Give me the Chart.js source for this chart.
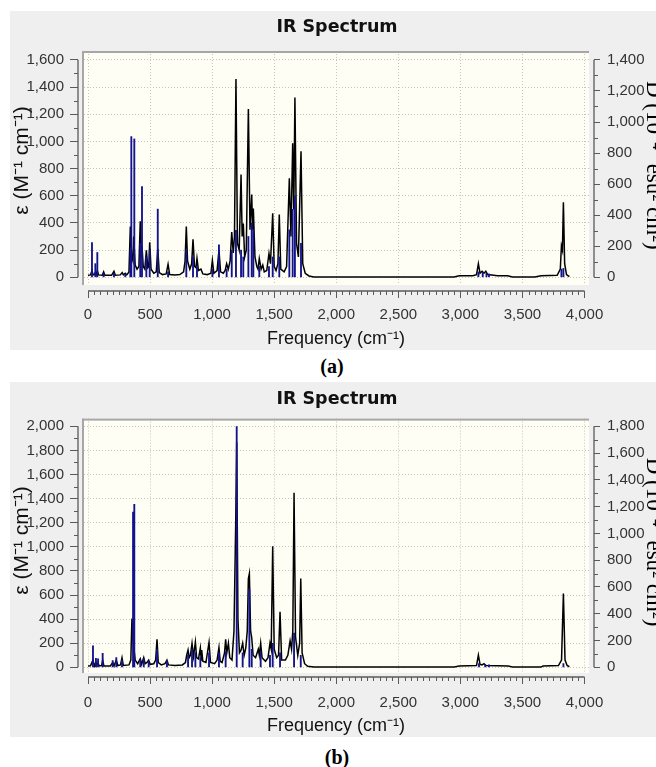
<!DOCTYPE html>
<html><head><meta charset="utf-8">
<script src="https://cdn.jsdelivr.net/npm/chart.js@4.4.1/dist/chart.umd.min.js"></script>
<style>
html,body{margin:0;padding:0;background:#fff;width:656px;height:767px;overflow:hidden;position:relative}
canvas{position:absolute;left:10px;background:#efefef}
#ca{top:11px}
#cb{top:382px}
.cap{position:absolute;font-family:'Liberation Serif','Times New Roman',serif;font-weight:bold;font-size:20px;color:#000;width:60px;text-align:center;line-height:20px}
</style></head><body>
<canvas id="ca" width="654" height="339"></canvas>
<div class="cap" style="left:302px;top:356px">(a)</div>
<canvas id="cb" width="654" height="355"></canvas>
<div class="cap" style="left:307px;top:747px">(b)</div>
<script>
// ---------- tick labels ----------
const xTicks = [0,500,1000,1500,2000,2500,3000,3500,4000];
const aEpsTicks = [0,200,400,600,800,1000,1200,1400,1600];
const aDTicks = [0,200,400,600,800,1000,1200,1400];
const bEpsTicks = [0,200,400,600,800,1000,1200,1400,1600,1800,2000];
const bDTicks = [0,200,400,600,800,1000,1200,1400,1600,1800];

// ---------- panel (a): broadened spectrum [frequency, epsilon] ----------
const aCurve = [[0,15],[20,18],[32,50],[42,18],[52,20],[59,35],[66,20],[75,50],[85,18],[115,15],[126,40],[136,15],[190,15],[209,45],[220,15],[260,18],[275,35],[285,18],[300,30],[312,18],[330,40],[341,374],[352,150],[362,120],[368,300],[380,90],[395,60],[410,80],[421,413],[430,150],[435,230],[445,80],[458,60],[470,198],[482,70],[490,80],[497,257],[508,60],[530,30],[550,40],[562,210],[574,35],[600,20],[630,25],[645,95],[658,20],[700,18],[740,20],[770,40],[782,120],[792,374],[802,120],[820,60],[835,100],[846,279],[858,80],[870,70],[878,140],[890,50],[910,60],[925,25],[960,20],[990,30],[1002,125],[1014,30],[1040,50],[1055,200],[1068,40],[1090,30],[1105,50],[1117,100],[1130,60],[1145,120],[1158,333],[1170,180],[1180,300],[1192,1460],[1204,250],[1218,200],[1233,756],[1242,300],[1251,396],[1262,150],[1275,200],[1292,1238],[1305,350],[1319,609],[1326,350],[1332,506],[1345,150],[1360,80],[1370,60],[1380,138],[1395,60],[1408,90],[1420,40],[1440,50],[1458,176],[1470,100],[1488,472],[1500,80],[1515,50],[1530,100],[1541,462],[1553,60],[1580,40],[1600,80],[1622,729],[1635,300],[1649,986],[1658,500],[1667,1323],[1680,250],[1695,150],[1716,927],[1730,100],[1750,30],[1780,10],[1820,3],[2000,2],[2500,2],[2950,2],[2990,12],[3100,12],[3130,20],[3145,100],[3158,30],[3175,45],[3190,30],[3205,45],[3220,20],[3300,12],[3380,12],[3420,2],[3600,2],[3650,12],[3780,15],[3805,60],[3814,230],[3822,200],[3830,553],[3840,100],[3855,20],[3878,5]];
// panel (a): stick spectrum [frequency, D]
const aSticks = [[32,223],[59,88],[75,160],[126,26],[209,26],[300,22],[341,175],[349,906],[373,891],[421,219],[435,585],[470,131],[497,175],[562,439],[645,35],[792,175],[846,131],[878,70],[1002,53],[1055,210],[1117,53],[1158,175],[1192,302],[1233,175],[1251,131],[1292,263],[1319,350],[1332,306],[1380,70],[1458,70],[1488,131],[1541,131],[1622,306],[1649,438],[1667,525],[1716,219],[3145,35],[3180,31],[3210,26],[3230,22],[3814,53],[3830,57]];

// ---------- panel (b) ----------
const bCurve = [[0,10],[20,12],[40,60],[52,12],[64,40],[72,15],[81,35],[90,12],[110,15],[118,60],[128,12],[180,12],[199,40],[210,12],[228,60],[240,15],[262,20],[274,80],[285,15],[330,20],[345,60],[354,405],[366,200],[380,60],[400,30],[421,70],[432,25],[449,80],[460,30],[475,40],[489,60],[500,25],[530,30],[545,60],[556,232],[566,40],[590,20],[620,30],[636,60],[648,20],[700,15],[760,20],[785,40],[795,100],[806,143],[815,80],[825,100],[838,199],[850,90],[865,210],[875,80],[890,70],[905,160],[912,60],[916,143],[925,50],[950,40],[975,207],[987,40],[1020,30],[1040,60],[1055,165],[1065,50],[1080,40],[1100,120],[1109,232],[1118,120],[1131,200],[1142,80],[1160,60],[1176,300],[1190,1200],[1198,1868],[1208,400],[1220,120],[1232,140],[1246,200],[1258,100],[1271,160],[1283,300],[1292,737],[1300,778],[1310,300],[1319,245],[1330,100],[1350,80],[1372,150],[1380,100],[1391,200],[1402,80],[1430,50],[1450,80],[1466,200],[1476,150],[1488,1004],[1500,150],[1520,80],[1535,100],[1547,460],[1560,60],[1590,60],[1610,100],[1628,220],[1640,150],[1650,300],[1660,1449],[1672,250],[1690,100],[1705,200],[1714,737],[1725,120],[1745,30],[1770,8],[1820,2],[2950,2],[2990,10],[3130,15],[3145,102],[3158,25],[3175,20],[3190,30],[3205,15],[3385,10],[3420,2],[3650,2],[3665,10],[3790,15],[3815,60],[3830,612],[3843,60],[3860,15],[3878,5]];
const bSticks = [[40,161],[64,67],[81,63],[118,104],[199,50],[228,72],[274,54],[363,1159],[373,1217],[421,54],[449,63],[489,45],[556,135],[636,50],[806,90],[838,135],[865,108],[905,72],[975,108],[1055,108],[1109,117],[1198,1798],[1246,108],[1300,585],[1319,135],[1391,117],[1466,90],[1488,180],[1547,108],[1660,256],[1714,90],[3150,27],[3200,22],[3230,18],[3830,27]];

const SANS = "'Liberation Sans',Arial,sans-serif";
const SERIF = "'Liberation Serif','Times New Roman',serif";
const fmt = v => String(v).replace(/\B(?=(\d{3})+(?!\d))/g, ',');

const frame = {
  id: 'frame',
  beforeDraw(chart, args, o) {
    const {ctx, chartArea: a} = chart;
    ctx.save();
    ctx.fillStyle = '#efefef';
    ctx.fillRect(0, 0, chart.width, chart.height);
    ctx.fillStyle = '#fefef4';
    ctx.fillRect(a.left + 4, a.top, (a.right - 5) - (a.left + 4), (a.bottom - o.inset) - a.top);
    ctx.restore();
  },
  beforeDatasetsDraw(chart, args, o) {
    const {ctx, chartArea: a, scales} = chart;
    const cl = a.left + 4, cr = a.right - 5, cb = a.bottom - o.inset;
    ctx.save();
    ctx.fillStyle = '#efefef';
    ctx.fillRect(a.left, a.top, cl - a.left, a.bottom - a.top);
    ctx.fillRect(cr, a.top, a.right - cr, a.bottom - a.top);
    ctx.fillRect(a.left, cb, a.right - a.left, a.bottom - cb);
    ctx.fillStyle = '#a6a6a6';
    ctx.fillRect(cl, a.top, cr - cl, 2);
    ctx.fillRect(cl, a.top, 2, cb - a.top);
    ctx.strokeStyle = '#5a5a5a';
    ctx.lineWidth = 1.3;
    const line = (x1, y1, x2, y2) => { ctx.beginPath(); ctx.moveTo(x1, y1); ctx.lineTo(x2, y2); ctx.stroke(); };
    const sx = scales.x, sy = scales.y, sy2 = scales.y2;
    const xt = sx.ticks.map(t => t.value), yt = sy.ticks.map(t => t.value), y2t = sy2.ticks.map(t => t.value);
    line(sx.getPixelForValue(xt[0]), a.bottom, sx.getPixelForValue(xt[xt.length - 1]), a.bottom);
    line(a.left, sy.getPixelForValue(yt[0]), a.left, sy.getPixelForValue(yt[yt.length - 1]));
    line(a.right, sy2.getPixelForValue(y2t[0]), a.right, sy2.getPixelForValue(y2t[y2t.length - 1]));
    ctx.lineWidth = 1;
    for (let i = 0; i < xt.length - 1; i++) {
      for (let k = 1; k < 10; k++) {
        const px = Math.round(sx.getPixelForValue(xt[i] + (xt[i + 1] - xt[i]) * k / 10)) + 0.5;
        line(px, a.bottom, px, a.bottom + 4);
      }
    }
    for (let i = 0; i < yt.length - 1; i++) {
      const py = Math.round(sy.getPixelForValue((yt[i] + yt[i + 1]) / 2)) + 0.5;
      line(a.left, py, a.left - 4, py);
    }
    for (let i = 0; i < y2t.length - 1; i++) {
      const py = Math.round(sy2.getPixelForValue((y2t[i] + y2t[i + 1]) / 2)) + 0.5;
      line(a.right, py, a.right + 4, py);
    }
    ctx.restore();
  }
};

function makePanel(id, curve, sticks, epsTicks, dTicks, L) {
  const tickFont = {family: SANS, size: 15};
  const titleFont = {family: SANS, size: 18, lineHeight: 1.2};
  return new Chart(document.getElementById(id), {
    type: 'bar',
    data: {
      datasets: [
        {type: 'line', data: curve.map(p => ({x: p[0], y: p[1]})), yAxisID: 'y', borderColor: '#000', borderWidth: 1.5, pointRadius: 0, tension: 0, fill: false, order: 2},
        {type: 'bar', data: sticks.map(p => ({x: p[0], y: p[1]})), yAxisID: 'y2', backgroundColor: '#13138c', borderWidth: 0, barThickness: 1.2, order: 1}
      ]
    },
    options: {
      responsive: false, devicePixelRatio: 1, animation: false,
      layout: {padding: 0},
      plugins: {
        legend: {display: false}, tooltip: {enabled: false},
        title: {display: true, text: 'IR Spectrum', color: '#111', font: {family: "'DejaVu Sans',sans-serif", weight: 'bold', size: 17.5, lineHeight: 1.2}, padding: {top: L.tTop, bottom: L.tBot}},
        frame: {inset: L.inset}
      },
      scales: {
        x: {
          type: 'linear', position: 'bottom', min: L.xMin, max: L.xMax, offset: false,
          afterBuildTicks: s => { s.ticks = xTicks.map(v => ({value: v})); },
          afterFit: s => { s.height = L.xH; },
          grid: {color: '#c4c4c4', offset: false, tickColor: '#5a5a5a', tickLength: 7, tickWidth: 1},
          border: {display: false, dash: [1, 2]},
          ticks: {color: '#333', font: tickFont, padding: L.xPad, maxRotation: 0, autoSkip: false, callback: v => fmt(v)},
          title: {display: true, text: 'Frequency (cm\u207B\u00B9)', color: '#111', font: titleFont, padding: {top: 0, bottom: 0}}
        },
        y: {
          position: 'left', min: L.yMin, max: L.yMax,
          afterBuildTicks: s => { s.ticks = epsTicks.map(v => ({value: v})); },
          afterFit: s => { s.width = 68; },
          grid: {color: '#c4c4c4', tickColor: '#5a5a5a', tickLength: 8, tickWidth: 1},
          border: {display: false, dash: [1, 2]},
          ticks: {color: '#333', font: tickFont, padding: 6, autoSkip: false, callback: v => fmt(v)},
          title: {display: true, text: L.leftTitle, color: '#111', font: {family: SANS, size: 21, lineHeight: 1.2}, padding: {top: 0, bottom: 0}}
        },
        y2: {
          position: 'right', min: L.y2Min, max: L.y2Max,
          afterBuildTicks: s => { s.ticks = dTicks.map(v => ({value: v})); },
          afterFit: s => { s.width = 70; },
          grid: {drawOnChartArea: false, tickColor: '#5a5a5a', tickLength: 6, tickWidth: 1},
          border: {display: false},
          ticks: {color: '#333', font: tickFont, padding: 7, autoSkip: false, callback: v => fmt(v)},
          title: {display: true, text: L.rightTitle, color: '#000', font: {family: SERIF, size: 23, lineHeight: 1.2}, padding: {top: -3, bottom: 0}}
        }
      }
    },
    plugins: [frame]
  });
}

makePanel('ca', aCurve, aSticks, aEpsTicks, aDTicks, {
  xMin: -80.6, xMax: 4076.5, yMin: -100.6, yMax: 1665.3, y2Min: -88.0, y2Max: 1457.1,
  tTop: 6, tBot: 13, xH: 59, inset: 6, xPad: 8,
  leftTitle: '\u2003\u03B5 (M\u207B\u00B9 cm\u207B\u00B9)', rightTitle: 'D (10\u207B\u2074\u2070 esu\u00B2 cm\u00B2)\u2002'
});
makePanel('cb', bCurve, bSticks, bEpsTicks, bDTicks, {
  xMin: -80.6, xMax: 4076.5, yMin: -80.3, yMax: 2063.7, y2Min: -72.3, y2Max: 1857.3,
  tTop: 7, tBot: 8.6, xH: 60, inset: 4, xPad: 10,
  leftTitle: '\u2002\u2009\u03B5 (M\u207B\u00B9 cm\u207B\u00B9)', rightTitle: 'D (10\u207B\u2074\u2070 esu\u00B2 cm\u00B2)\u2002'
});
</script>
</body></html>
